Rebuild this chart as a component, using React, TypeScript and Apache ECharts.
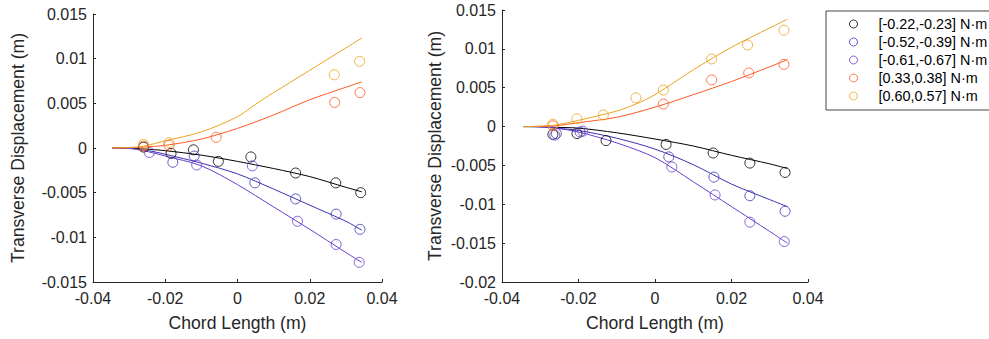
import React, { useEffect, useRef } from "react";
import * as echarts from "echarts";

type P = [number, number];

const LEGEND_NAMES = [
  "[-0.22,-0.23] N·m",
  "[-0.52,-0.39] N·m",
  "[-0.61,-0.67] N·m",
  "[0.33,0.38] N·m",
  "[0.60,0.57] N·m",
];
const COLORS = ["#000000", "#3b33b0", "#6a3fd4", "#ff5a26", "#eba21c"];

const X_TICKS = { min: -0.04, max: 0.04, interval: 0.02 };
const Y_LEFT = { min: -0.015, max: 0.015, interval: 0.005 };
const Y_RIGHT = { min: -0.02, max: 0.015, interval: 0.005 };

// ---- Left plot: measured points ----
const L_BLACK_PTS: P[] = [[-0.026, 0.0001], [-0.0184, -0.0006], [-0.0122, -0.0002], [-0.0053, -0.0015], [0.0037, -0.001], [0.0161, -0.0028], [0.0272, -0.0039], [0.0341, -0.005]];
const L_BLUE_PTS: P[] = [[-0.0179, -0.0016], [-0.012, -0.0009], [0.0048, -0.0039], [0.0161, -0.0057], [0.0273, -0.0074], [0.0339, -0.0091]];
const L_PURPLE_PTS: P[] = [[-0.0244, -0.0005], [-0.0113, -0.0019], [0.0041, -0.002], [0.0166, -0.0082], [0.0273, -0.0108], [0.0337, -0.0128]];
const L_RED_PTS: P[] = [[-0.026, 0.0002], [-0.019, 0.0003], [-0.0059, 0.0012], [0.0269, 0.0051], [0.0339, 0.0062]];
const L_ORANGE_PTS: P[] = [[-0.026, 0.0004], [-0.019, 0.0006], [0.0268, 0.0082], [0.0338, 0.0097]];

// ---- Left plot: fitted curves ----
const L_BLACK_FIT: P[] = [[-0.0347, 0], [-0.03, -0.00002], [-0.026, -0.0001], [-0.02, -0.0003], [-0.01, -0.0008], [0, -0.0015], [0.01, -0.0023], [0.02, -0.0032], [0.03, -0.0044], [0.0344, -0.0049]];
const L_BLUE_FIT: P[] = [[-0.0347, 0], [-0.03, -0.00004], [-0.026, -0.0002], [-0.02, -0.0007], [-0.01, -0.0017], [0, -0.0029], [0.01, -0.0046], [0.02, -0.0064], [0.03, -0.0082], [0.0344, -0.0092]];
const L_PURPLE_FIT: P[] = [[-0.0347, 0], [-0.03, -0.00005], [-0.026, -0.0003], [-0.02, -0.0009], [-0.01, -0.002], [0, -0.0041], [0.01, -0.0066], [0.02, -0.0091], [0.03, -0.0117], [0.0344, -0.0128]];
const L_RED_FIT: P[] = [[-0.0347, 0], [-0.03, 0.00003], [-0.026, 0.0001], [-0.02, 0.0003], [-0.01, 0.001], [0, 0.0022], [0.01, 0.0037], [0.02, 0.0054], [0.03, 0.0068], [0.0344, 0.0074]];
const L_ORANGE_FIT: P[] = [[-0.0347, 0], [-0.03, 0.00005], [-0.026, 0.0002], [-0.02, 0.0008], [-0.01, 0.0018], [0, 0.0035], [0.005, 0.0049], [0.01, 0.0062], [0.02, 0.0087], [0.03, 0.0112], [0.0344, 0.0123]];

// ---- Right plot: measured points ----
const R_BLACK_PTS: P[] = [[-0.0267, -0.001], [-0.0204, -0.0009], [-0.0128, -0.0018], [0.0029, -0.0023], [0.0152, -0.0034], [0.0248, -0.0047], [0.034, -0.0059]];
const R_BLUE_PTS: P[] = [[-0.0258, -0.0009], [-0.0196, -0.0007], [0.0036, -0.0039], [0.0154, -0.0065], [0.0248, -0.0089], [0.034, -0.0109]];
const R_PURPLE_PTS: P[] = [[-0.0262, -0.0011], [-0.0189, -0.0006], [0.0044, -0.0052], [0.0157, -0.0088], [0.0248, -0.0123], [0.0338, -0.0148]];
const R_RED_PTS: P[] = [[-0.0267, 0.0001], [0.0022, 0.0029], [0.0148, 0.006], [0.0245, 0.0069], [0.0337, 0.008]];
const R_ORANGE_PTS: P[] = [[-0.0267, 0.0003], [-0.0204, 0.001], [-0.0135, 0.0015], [-0.005, 0.0037], [0.0022, 0.0047], [0.0148, 0.0087], [0.0242, 0.0105], [0.0337, 0.0124]];

// ---- Right plot: fitted curves ----
const R_BLACK_FIT: P[] = [[-0.0344, 0], [-0.03, -0.00002], [-0.026, -0.0001], [-0.02, -0.0002], [-0.01, -0.0008], [0, -0.0016], [0.01, -0.0025], [0.02, -0.0037], [0.03, -0.0048], [0.0346, -0.0054]];
const R_BLUE_FIT: P[] = [[-0.0344, 0], [-0.03, -0.00003], [-0.026, -0.0002], [-0.02, -0.0005], [-0.01, -0.0015], [0, -0.0029], [0.01, -0.0049], [0.02, -0.0074], [0.03, -0.0094], [0.0346, -0.0103]];
const R_PURPLE_FIT: P[] = [[-0.0344, 0], [-0.03, -0.00004], [-0.026, -0.0002], [-0.02, -0.0007], [-0.01, -0.0021], [0, -0.004], [0.01, -0.0071], [0.02, -0.0103], [0.03, -0.0135], [0.0346, -0.015]];
const R_RED_FIT: P[] = [[-0.0344, 0], [-0.03, 0.00003], [-0.026, 0.0001], [-0.02, 0.0005], [-0.01, 0.0012], [0, 0.0025], [0.01, 0.0041], [0.02, 0.0058], [0.03, 0.0077], [0.0346, 0.0086]];
const R_ORANGE_FIT: P[] = [[-0.0344, 0], [-0.03, 0.00004], [-0.026, 0.0002], [-0.02, 0.0008], [-0.01, 0.002], [-0.005, 0.0029], [0, 0.0041], [0.01, 0.0073], [0.02, 0.0102], [0.03, 0.0127], [0.0346, 0.0138]];

const LEFT_PTS = [L_BLACK_PTS, L_BLUE_PTS, L_PURPLE_PTS, L_RED_PTS, L_ORANGE_PTS];
const LEFT_FIT = [L_BLACK_FIT, L_BLUE_FIT, L_PURPLE_FIT, L_RED_FIT, L_ORANGE_FIT];
const RIGHT_PTS = [R_BLACK_PTS, R_BLUE_PTS, R_PURPLE_PTS, R_RED_PTS, R_ORANGE_PTS];
const RIGHT_FIT = [R_BLACK_FIT, R_BLUE_FIT, R_PURPLE_FIT, R_RED_FIT, R_ORANGE_FIT];

const FONT = "'Liberation Sans', Arial, Helvetica, sans-serif";
const AX = "#262626";

const fmt = (v: number) => {
  const r = Math.round(v * 10000) / 10000;
  return r === 0 ? "0" : String(r);
};

function xAxis(gridIndex: number) {
  return {
    type: "value",
    gridIndex,
    ...X_TICKS,
    axisLine: { show: true, onZero: false, lineStyle: { color: AX, width: 1 } },
    axisTick: { show: true, inside: true, length: 3, lineStyle: { color: AX } },
    axisLabel: { color: AX, fontSize: 16, fontFamily: FONT, margin: 8, formatter: fmt },
    splitLine: { show: false },
    name: "Chord Length (m)",
    nameLocation: "middle",
    nameGap: 32,
    nameTextStyle: { fontSize: 17.6, color: AX, fontFamily: FONT },
  };
}

function yAxis(gridIndex: number, range: any, nameGap: number) {
  return {
    type: "value",
    gridIndex,
    ...range,
    axisLine: { show: true, onZero: false, lineStyle: { color: AX, width: 1 } },
    axisTick: { show: true, inside: true, length: 3, lineStyle: { color: AX } },
    axisLabel: { color: AX, fontSize: 16, fontFamily: FONT, margin: 6, formatter: fmt },
    splitLine: { show: false },
    name: "Transverse Displacement (m)",
    nameLocation: "middle",
    nameGap,
    nameTextStyle: { fontSize: 17.6, color: AX, fontFamily: FONT },
  };
}

export default function App() {
  const ref = useRef<HTMLDivElement>(null);
  useEffect(() => {
    if (!ref.current) return;
    const chart = echarts.init(ref.current, undefined, { renderer: "svg" });
    const series: any[] = [];
    [LEFT_FIT, RIGHT_FIT].forEach((fits, g) => {
      fits.forEach((d, i) => {
        series.push({
          type: "line",
          xAxisIndex: g,
          yAxisIndex: g,
          data: d,
          symbol: "none",
          showSymbol: false,
          smooth: 0.3,
          lineStyle: { color: COLORS[i], width: 1 },
          itemStyle: { color: COLORS[i] },
          z: 2,
          silent: true,
        });
      });
    });
    [LEFT_PTS, RIGHT_PTS].forEach((pts, g) => {
      pts.forEach((d, i) => {
        series.push({
          type: "scatter",
          name: LEGEND_NAMES[i],
          xAxisIndex: g,
          yAxisIndex: g,
          data: d,
          symbol: "circle",
          symbolSize: 10,
          itemStyle: { color: "rgba(255,255,255,0)", borderColor: COLORS[i], borderWidth: 1 },
          z: 3,
        });
      });
    });
    chart.setOption({
      animation: false,
      backgroundColor: "#ffffff",
      grid: [
        { left: 93, top: 14, width: 289, height: 268 },
        { left: 502, top: 10, width: 306, height: 272 },
      ],
      xAxis: [xAxis(0), xAxis(1)],
      yAxis: [yAxis(0, Y_LEFT, 66), yAxis(1, Y_RIGHT, 58)],
      legend: {
        orient: "vertical",
        left: 826,
        top: 11,
        data: LEGEND_NAMES.map((n, i) => ({
          name: n,
          icon: "circle",
          itemStyle: { color: "rgba(255,255,255,0)", borderColor: COLORS[i], borderWidth: 1 },
        })),
        itemWidth: 8,
        itemHeight: 8,
        itemGap: 4,
        padding: [6, 12, 7, 23],
        borderColor: "#444444",
        borderWidth: 1,
        selectedMode: false,
        textStyle: { fontSize: 14.4, color: "#000000", fontFamily: FONT, padding: [0, 0, 0, 16] },
      },
      series,
    });
    return () => chart.dispose();
  }, []);
  return <div ref={ref} style={{ width: 989, height: 339, position: "absolute", left: 0, top: 0 }} />;
}
